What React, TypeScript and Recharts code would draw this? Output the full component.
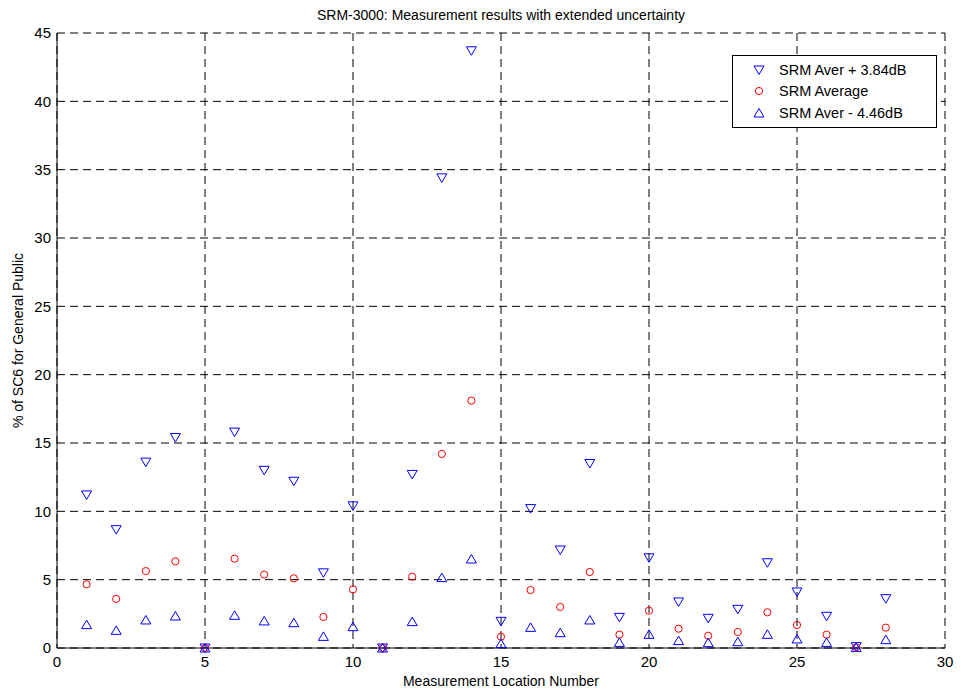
import { ScatterChart, Scatter, XAxis, YAxis, CartesianGrid } from 'recharts'

const locations = [1, 2, 3, 4, 5, 6, 7, 8, 9, 10, 11, 12, 13, 14, 15, 16, 17, 18, 19, 20, 21, 22, 23, 24, 25, 26, 27, 28]
const upperValues = [11.2, 8.66, 13.6, 15.4, 0, 15.8, 13.0, 12.2, 5.5, 10.4, 0, 12.7, 34.4, 43.7, 1.95, 10.2, 7.17, 13.5, 2.24, 6.6, 3.37, 2.17, 2.83, 6.24, 4.1, 2.32, 0.1, 3.61]
const averageValues = [4.66, 3.59, 5.63, 6.34, 0, 6.54, 5.37, 5.1, 2.27, 4.29, 0, 5.22, 14.2, 18.1, 0.83, 4.24, 3.0, 5.56, 0.98, 2.73, 1.41, 0.9, 1.17, 2.61, 1.68, 0.98, 0.05, 1.49]
const lowerValues = [1.71, 1.29, 2.05, 2.34, 0, 2.39, 1.98, 1.85, 0.85, 1.56, 0, 1.93, 5.15, 6.51, 0.32, 1.51, 1.12, 2.05, 0.41, 1.0, 0.54, 0.39, 0.46, 1.0, 0.66, 0.41, 0.03, 0.61]
const seriesNames = ['SRM Aver + 3.84dB', 'SRM Average', 'SRM Aver - 4.46dB']
const xTicks = [0, 5, 10, 15, 20, 25, 30]
const yTicks = [0, 5, 10, 15, 20, 25, 30, 35, 40, 45]

const BLUE = '#0000ff'
const RED = '#ff0000'
const FONT = '"Liberation Sans", Arial, sans-serif'

const toPoints = (vals: number[]) => locations.map((x, i) => ({ x, y: vals[i] }))
const upperData = toPoints(upperValues)
const averageData = toPoints(averageValues)
const lowerData = toPoints(lowerValues)

const triDownPath = (cx: number, cy: number) =>
  `M${cx - 5},${cy - 4}L${cx + 5},${cy - 4}L${cx},${cy + 4.5}Z`
const triUpPath = (cx: number, cy: number) =>
  `M${cx - 5},${cy + 4}L${cx + 5},${cy + 4}L${cx},${cy - 4.5}Z`

const TriDown = (props: any) => <path d={triDownPath(props.cx, props.cy)} fill="none" stroke={BLUE} strokeWidth={1} />
const TriUp = (props: any) => <path d={triUpPath(props.cx, props.cy)} fill="none" stroke={BLUE} strokeWidth={1} />
const Ring = (props: any) => <circle cx={props.cx} cy={props.cy} r={3.6} fill="none" stroke={RED} strokeWidth={1} />

// legend drawn as an overlay so it doesn't eat plot space
const LegendBox = () => (
  <div style={{ position: 'absolute', top: 55, left: 732, width: 205, border: '1px solid #000', background: '#fff', padding: '3px 0', fontFamily: FONT, fontSize: 14.5, boxSizing: 'border-box' }}>
    {seriesNames.map((name, i) => (
      <div key={name} style={{ display: 'flex', alignItems: 'center', height: 21.5 }}>
        <svg width={46} height={14} style={{ flexShrink: 0 }}>
          {i === 0 && <path d={triDownPath(26, 7)} fill="none" stroke={BLUE} />}
          {i === 1 && <circle cx={26} cy={7} r={3.6} fill="none" stroke={RED} />}
          {i === 2 && <path d={triUpPath(26, 7)} fill="none" stroke={BLUE} />}
        </svg>
        <span style={{ color: '#000' }}>{name}</span>
      </div>
    ))}
  </div>
)

export default function App() {
  return (
    <div style={{ position: 'fixed', left: 0, top: 0, width: 961, height: 691, background: '#fff' }}>
      <div style={{ position: 'absolute', top: 7, left: 57, width: 888, textAlign: 'center', fontFamily: FONT, fontSize: 14 }}>
        SRM-3000: Measurement results with extended uncertainty
      </div>
      <ScatterChart width={961} height={691} margin={{ top: 33, right: 16, bottom: 13, left: 17 }}>
        <CartesianGrid stroke="#000" strokeDasharray="8 5" strokeWidth={1} />
        <XAxis
          type="number"
          dataKey="x"
          domain={[0, 30]}
          ticks={xTicks}
          height={30}
          tickLine={false}
          axisLine={{ stroke: '#000' }}
          tick={{ fill: '#000', fontSize: 15, fontFamily: FONT }}
          label={{ value: 'Measurement Location Number', position: 'insideBottom', offset: -8, fill: '#000', fontSize: 14, fontFamily: FONT }}
        />
        <XAxis xAxisId="top" orientation="top" type="number" dataKey="x" domain={[0, 30]} height={0} tick={false} tickLine={false} axisLine={{ stroke: '#000' }} />
        <YAxis
          type="number"
          dataKey="y"
          domain={[0, 45]}
          ticks={yTicks}
          width={40}
          tickLine={false}
          tickMargin={0}
          axisLine={{ stroke: '#000' }}
          tick={{ fill: '#000', fontSize: 15, fontFamily: FONT }}
          label={{ value: '% of SC6 for General Public', angle: -90, position: 'insideLeft', offset: 1, fill: '#000', fontSize: 14, fontFamily: FONT, style: { textAnchor: 'middle' } }}
        />
        <YAxis yAxisId="right" orientation="right" type="number" dataKey="y" domain={[0, 45]} width={0} tick={false} tickLine={false} axisLine={{ stroke: '#000' }} />
        <Scatter name={seriesNames[0]} data={upperData} shape={TriDown} isAnimationActive={false} />
        <Scatter name={seriesNames[1]} data={averageData} shape={Ring} isAnimationActive={false} />
        <Scatter name={seriesNames[2]} data={lowerData} shape={TriUp} isAnimationActive={false} />
      </ScatterChart>
      <LegendBox />
    </div>
  )
}
